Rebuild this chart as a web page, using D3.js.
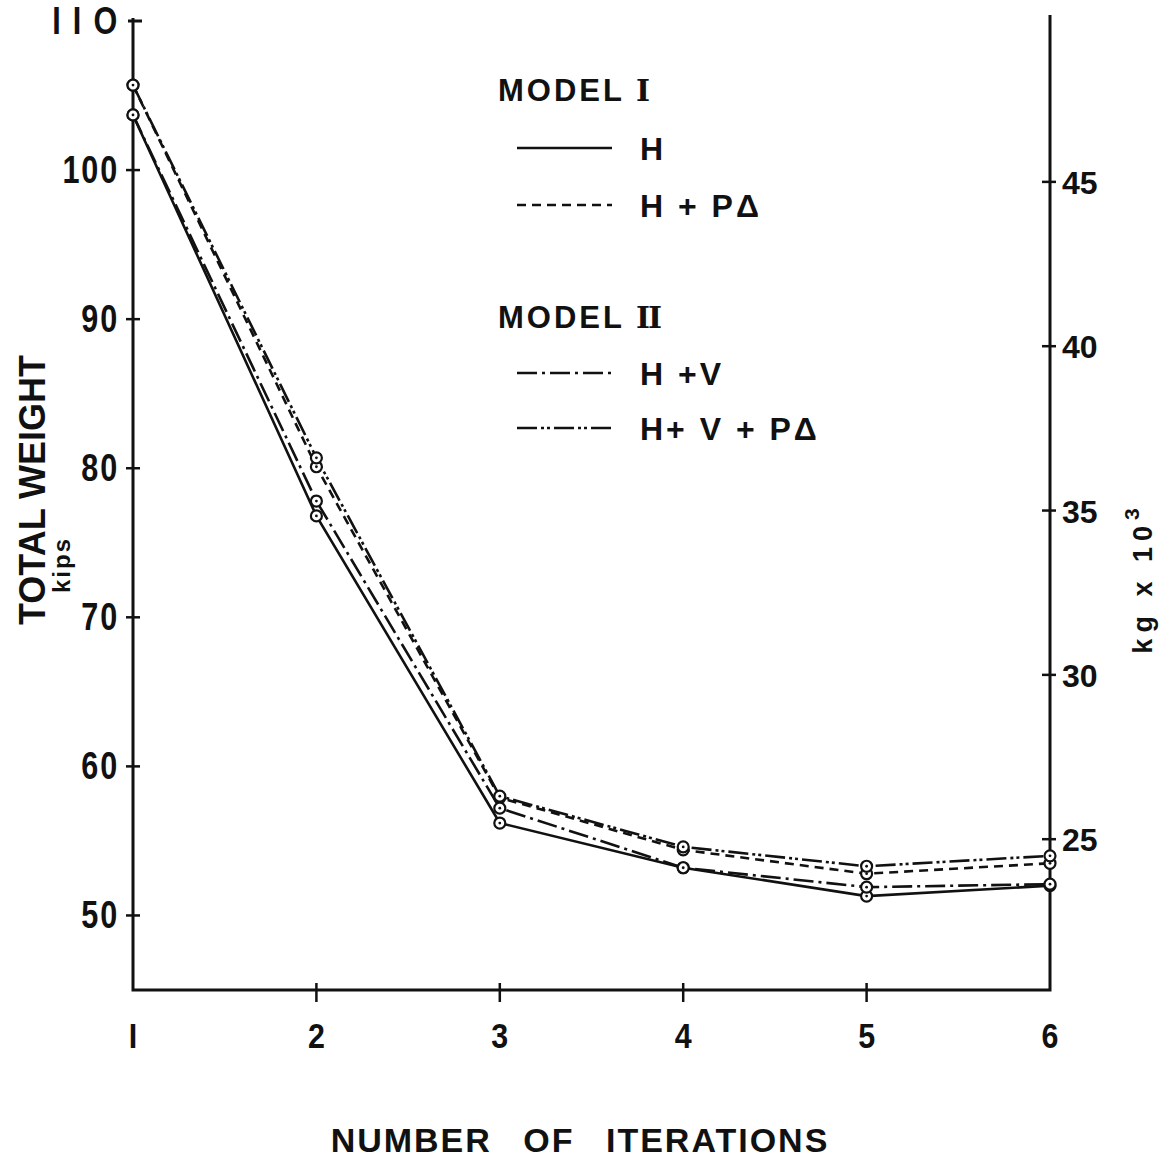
<!DOCTYPE html>
<html><head><meta charset="utf-8">
<script src="https://cdn.jsdelivr.net/npm/d3@7"></script>
<style>body{margin:0;background:#fff}svg{display:block}</style>
</head><body>
<script>
const iterations = [1, 2, 3, 4, 5, 6];
const seriesNames = ["H", "H + P\u0394", "H +V", "H+ V + P\u0394"];
const valuesH = [103.7, 76.8, 56.2, 53.2, 51.3, 52.0];
const valuesHPD = [105.7, 80.1, 57.9, 54.4, 52.8, 53.5];
const valuesHV = [103.7, 77.8, 57.2, 53.2, 51.9, 52.1];
const valuesHVPD = [105.7, 80.7, 58.0, 54.6, 53.3, 54.0];
const leftTicks = [50, 60, 70, 80, 90, 100, 110];
const rightTicks = [25, 30, 35, 40, 45];
const KIP_TO_TONNE = 0.45359;

const W = 1162, H = 1170;
const svg = d3.select("body").append("svg").attr("width", W).attr("height", H);
const x = d3.scaleLinear().domain([1, 6]).range([133, 1050]);
const y = d3.scaleLinear().domain([45, 110]).range([990, 21]);
const yR = d3.scaleLinear().domain([45 * KIP_TO_TONNE, 110 * KIP_TO_TONNE]).range([990, 21]);

const font = "'Liberation Sans', Arial, sans-serif";
const ink = "#111";

// axes lines
svg.append("path").attr("d", `M${x(1)},18 V990 H${x(6)} V15`)
  .attr("fill", "none").attr("stroke", ink).attr("stroke-width", 3);
svg.append("line").attr("x1", 128).attr("x2", 142).attr("y1", y(110)).attr("y2", y(110)).attr("stroke", ink).attr("stroke-width", 3);

// left ticks
const lt = svg.append("g");
leftTicks.forEach(t => {
  if (t !== 110) lt.append("line").attr("x1", 126).attr("x2", 140).attr("y1", y(t)).attr("y2", y(t)).attr("stroke", ink).attr("stroke-width", 2.5);
  lt.append("text").attr("transform", `translate(119,${y(t) + 13}) scale(0.9,1.12)`).attr("text-anchor", "end")
    .attr("font-family", font).attr("font-weight", "bold").attr("font-size", 34).attr("fill", ink)
    .attr("letter-spacing", 2).text(t === 110 ? "I I O" : t);
});
// right ticks
rightTicks.forEach(t => {
  svg.append("line").attr("x1", 1042).attr("x2", 1056).attr("y1", yR(t)).attr("y2", yR(t)).attr("stroke", ink).attr("stroke-width", 2.5);
  svg.append("text").attr("x", 1062).attr("y", yR(t) + 12)
    .attr("font-family", font).attr("font-weight", "bold").attr("font-size", 32).attr("fill", ink).text(t);
});
// bottom ticks
iterations.forEach(t => {
  if (t > 1 && t < 6) svg.append("line").attr("x1", x(t)).attr("x2", x(t)).attr("y1", 983).attr("y2", 1002).attr("stroke", ink).attr("stroke-width", 2.5);
  svg.append("text").attr("transform", `translate(${x(t)},1048) scale(0.95,1.1)`).attr("text-anchor", "middle")
    .attr("font-family", font).attr("font-weight", "bold").attr("font-size", 32).attr("fill", ink).text(t === 1 ? "I" : t);
});

// titles
svg.append("text").attr("transform", "translate(45,490) rotate(-90)").attr("text-anchor", "middle")
  .attr("font-family", font).attr("font-weight", "bold").attr("font-size", 36).attr("fill", ink).text("TOTAL WEIGHT");
svg.append("text").attr("transform", "translate(70,565) rotate(-90)").attr("text-anchor", "middle")
  .attr("font-family", font).attr("font-weight", "bold").attr("font-size", 24).attr("letter-spacing", 2).attr("fill", ink).text("kips");
const kg = svg.append("text").attr("transform", "translate(1152,578) rotate(-90)").attr("text-anchor", "middle")
  .attr("font-family", font).attr("font-weight", "bold").attr("font-size", 27).attr("letter-spacing", 6).attr("fill", ink);
kg.append("tspan").text("kg x 10");
kg.append("tspan").attr("dy", -13).attr("font-size", 21).text("3");
svg.append("text").attr("x", 580).attr("y", 1152).attr("text-anchor", "middle")
  .attr("font-family", font).attr("font-weight", "bold").attr("font-size", 34).attr("letter-spacing", 2).attr("word-spacing", 20)
  .attr("fill", ink).text("NUMBER OF ITERATIONS");

// series
const dashes = [null, "9,6", "20,5,3,5", "20,4,3,3,3,4"];
const allSeries = [valuesH, valuesHPD, valuesHV, valuesHVPD];
const line = d3.line().x((d, i) => x(iterations[i])).y(d => y(d));
allSeries.forEach((vals, k) => {
  svg.append("path").datum(vals).attr("d", line).attr("fill", "none").attr("stroke", ink)
    .attr("stroke-width", 2.6).attr("stroke-dasharray", dashes[k]);
});
allSeries.forEach(vals => {
  vals.forEach((v, i) => {
    svg.append("circle").attr("cx", x(iterations[i])).attr("cy", y(v)).attr("r", 5.5)
      .attr("fill", "#fff").attr("stroke", ink).attr("stroke-width", 2.2);
    svg.append("circle").attr("cx", x(iterations[i])).attr("cy", y(v)).attr("r", 1.4).attr("fill", ink);
  });
});

// legend
const lg = svg.append("g").attr("font-family", font).attr("font-weight", "bold").attr("fill", ink);
function modelTitle(yy, roman) {
  const t = lg.append("text").attr("x", 498).attr("y", yy).attr("font-size", 31).attr("letter-spacing", 3);
  t.append("tspan").text("MODEL  ");
  t.append("tspan").attr("font-family", "'DejaVu Serif', serif").attr("font-size", 30).attr("letter-spacing", -2).text(roman);
}
modelTitle(101, "I");
modelTitle(328, "II");
const legendRows = [148, 205, 373, 428];
legendRows.forEach((yy, k) => {
  lg.append("line").attr("x1", 517).attr("x2", 612).attr("y1", yy).attr("y2", yy)
    .attr("stroke", ink).attr("stroke-width", 2.6).attr("stroke-dasharray", dashes[k]);
  lg.append("text").attr("x", 640).attr("y", yy + 12).attr("font-size", 32).attr("letter-spacing", 3)
    .attr("xml:space", "preserve").text(seriesNames[k]);
});
</script>
</body></html>
